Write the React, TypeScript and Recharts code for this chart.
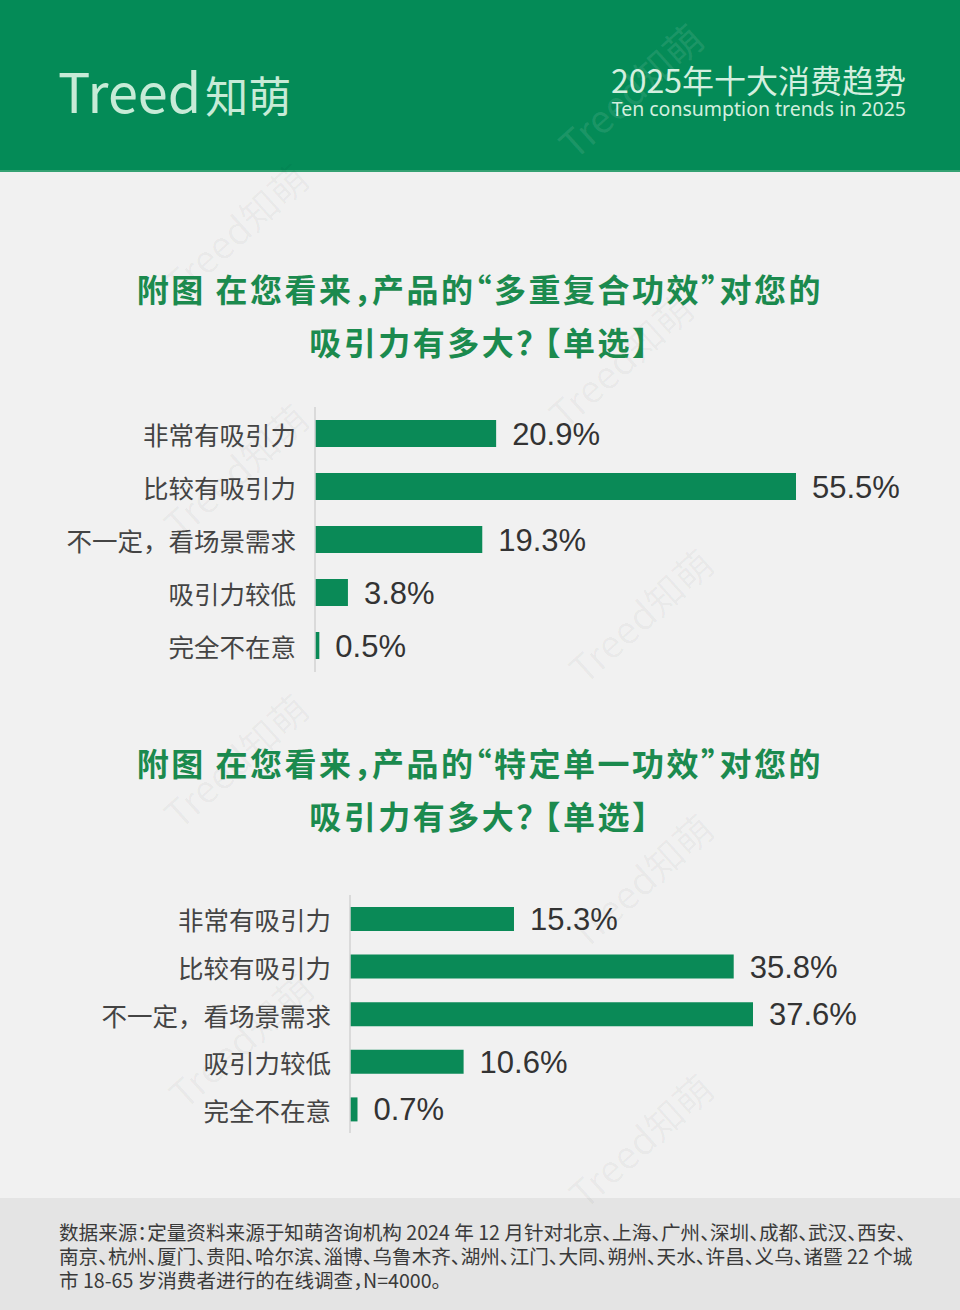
import React from 'react';
import { BarChart, Bar, XAxis, YAxis, LabelList } from 'recharts';

const categories = ['非常有吸引力', '比较有吸引力', '不一定，看场景需求', '吸引力较低', '完全不在意'];
const multiEffect = [20.9, 55.5, 19.3, 3.8, 0.5];
const singleEffect = [15.3, 35.8, 37.6, 10.6, 0.7];

const title1 = ['附图 在您看来，产品的“多重复合功效”对您的', '吸引力有多大？ 【单选】'];
const title2 = ['附图 在您看来，产品的“特定单一功效”对您的', '吸引力有多大？ 【单选】'];

const footerLines = [
  '数据来源：定量资料来源于知萌咨询机构 2024 年 12 月针对北京、上海、广州、深圳、成都、武汉、西安、',
  '南京、杭州、厦门、贵阳、哈尔滨、淄博、乌鲁木齐、湖州、江门、大同、朔州、天水、许昌、义乌、诸暨 22 个城',
  '市 18-65 岁消费者进行的在线调查，N=4000。',
];

const GREEN = '#0a8a57';
const CJK = '"Noto Sans CJK SC", "Noto Sans", sans-serif';

const toRows = (values: number[]) => categories.map((name, i) => ({ name, value: values[i] }));

const CategoryTick = (props: any) => {
  const { x, y, payload } = props;
  return (
    <text
      x={x - 19}
      y={y}
      textAnchor="end"
      dominantBaseline="central"
      fill="#444"
      fontSize={25.5}
      fontFamily={CJK}
    >
      {payload.value}
    </text>
  );
};

interface PanelProps {
  values: number[];
  top: number;
  height: number;
  axisWidth: number;
  rightMargin: number;
  barSize: number;
}

const Panel: React.FC<PanelProps> = ({ values, top, height, axisWidth, rightMargin, barSize }) => {
  const max = Math.max(...values);
  return (
    <div style={{ position: 'absolute', left: 0, top }}>
      <BarChart
        width={960}
        height={height}
        data={toRows(values)}
        layout="vertical"
        margin={{ top: 0, right: rightMargin, bottom: 0, left: 0 }}
      >
        <XAxis type="number" hide domain={[0, max]} />
        <YAxis
          type="category"
          dataKey="name"
          width={axisWidth}
          tickLine={false}
          tickSize={0}
          tickMargin={0}
          axisLine={{ stroke: '#d2d2d2', strokeWidth: 1.5 }}
          tick={<CategoryTick />}
          interval={0}
        />
        <Bar dataKey="value" fill={GREEN} barSize={barSize} isAnimationActive={false}>
          <LabelList
            dataKey="value"
            position="right"
            offset={16}
            formatter={(v: any) => `${v}%`}
            fill="#333"
            fontSize={31}
            fontFamily='"Liberation Sans", Arial, sans-serif'
          />
        </Bar>
      </BarChart>
    </div>
  );
};

const Title: React.FC<{ lines: string[]; top: number }> = ({ lines, top }) => (
  <>
    {lines.map((t, i) => (
      <div
        key={i}
        style={{
          position: 'absolute',
          left: 0,
          width: 960,
          top: top + i * 53 - 24,
          height: 48,
          lineHeight: '48px',
          textAlign: 'center',
          fontSize: 32,
          fontWeight: 700,
          letterSpacing: 2.5,
          fontFeatureSettings: '"halt"',
          color: '#1b8a4e',
          fontFamily: CJK,
          whiteSpace: 'nowrap',
        }}
      >
        {t}
      </div>
    ))}
  </>
);

const marks = [
  { x: 630, y: 90, dark: false },
  { x: 235, y: 230, dark: true },
  { x: 620, y: 360, dark: true },
  { x: 235, y: 470, dark: true },
  { x: 640, y: 615, dark: true },
  { x: 235, y: 760, dark: true },
  { x: 640, y: 880, dark: true },
  { x: 240, y: 1040, dark: true },
  { x: 640, y: 1140, dark: true },
];

export default function App() {
  return (
    <div
      style={{
        position: 'absolute',
        left: 0,
        top: 0,
        width: 960,
        height: 1310,
        background: '#f1f1f1',
        overflow: 'hidden',
        fontFamily: CJK,
      }}
    >
      {/* header band */}
      <div style={{ position: 'absolute', left: 0, top: 0, width: 960, height: 172, background: '#048b57' }} />
      <div style={{ position: 'absolute', left: 0, top: 170, width: 960, height: 2, background: '#34a273' }} />
      <div
        style={{
          position: 'absolute',
          left: 58,
          top: 60,
          lineHeight: '60px',
          color: '#c7ebd7',
          whiteSpace: 'nowrap',
        }}
      >
        <span style={{ fontSize: 54, letterSpacing: 0 }}>Treed</span>
        <span style={{ fontSize: 43, marginLeft: 4 }}>知萌</span>
      </div>
      <div
        style={{
          position: 'absolute',
          left: 600,
          top: 62,
          width: 306,
          fontSize: 32,
          lineHeight: '34px',
          color: '#d3efdf',
          whiteSpace: 'nowrap',
          textAlign: 'right',
        }}
      >
        2025年十大消费趋势
      </div>
      <div
        style={{
          position: 'absolute',
          left: 590,
          top: 97,
          width: 316,
          fontSize: 19.5,
          lineHeight: '24px',
          color: '#d3efdf',
          whiteSpace: 'nowrap',
          textAlign: 'right',
          fontFamily: '"Noto Sans", sans-serif',
        }}
      >
        Ten consumption trends in 2025
      </div>

      {/* footer band */}
      <div style={{ position: 'absolute', left: 0, top: 1198, width: 960, height: 112, background: '#e4e4e4' }} />
      {footerLines.map((t, i) => (
        <div
          key={i}
          style={{
            position: 'absolute',
            left: 59,
            top: 1220 + i * 24,
            fontSize: 19.6,
            lineHeight: '24px',
            color: '#3a3a3a',
            whiteSpace: 'nowrap',
            fontFeatureSettings: '"halt"',
          }}
        >
          {t}
        </div>
      ))}

      {/* watermarks */}
      {marks.map((m, i) => (
        <div
          key={i}
          style={{
            position: 'absolute',
            left: m.x - 90,
            top: m.y - 25,
            width: 180,
            height: 50,
            lineHeight: '50px',
            textAlign: 'center',
            fontSize: 38,
            color: m.dark ? 'rgba(0,0,0,0.035)' : 'rgba(255,255,255,0.1)',
            transform: 'rotate(-42deg)',
            whiteSpace: 'nowrap',
            pointerEvents: 'none',
          }}
        >
          Treed知萌
        </div>
      ))}

      <Title lines={title1} top={288} />
      <Panel values={multiEffect} top={407} height={265} axisWidth={315} rightMargin={164} barSize={27} />

      <Title lines={title2} top={762} />
      <Panel values={singleEffect} top={895} height={238} axisWidth={350} rightMargin={207} barSize={24} />
    </div>
  );
}
